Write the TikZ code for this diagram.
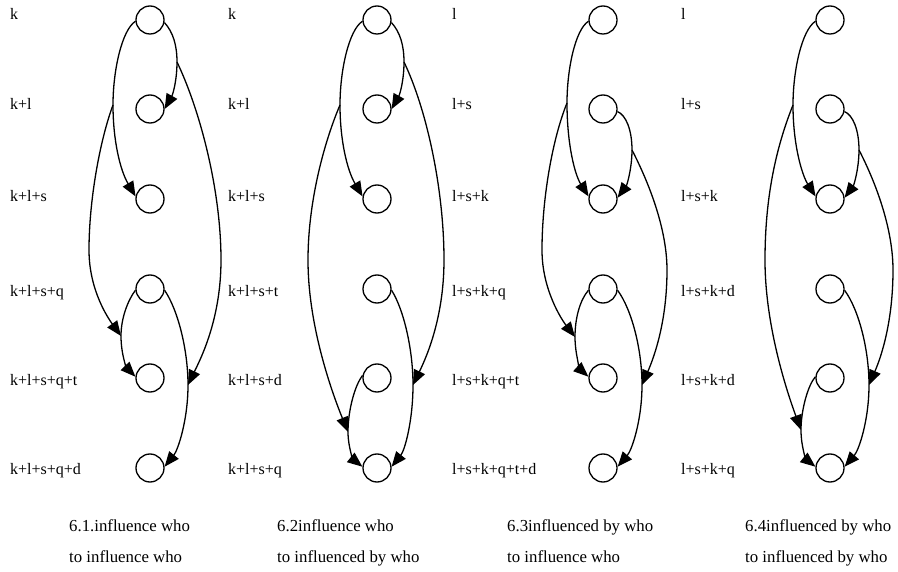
\documentclass[tikz,border=0pt]{standalone}
\usepackage{fontspec}
\setmainfont{Liberation Serif}
\usetikzlibrary{arrows.meta}
\tikzset{
  st/.style={draw, circle, minimum size=28pt, inner sep=0pt, line width=1.3pt},
  lbl/.style={anchor=base west, inner sep=0pt, font=\fontsize{16}{19}\selectfont},
  captext/.style={anchor=base west, inner sep=0pt, font=\fontsize{16.8}{19}\selectfont},
  ed/.style={line width=1.3pt, -{Triangle[length=15pt,width=12pt]}},
}
\begin{document}
\begin{tikzpicture}[x=1pt,y=-1pt]
\useasboundingbox[fill=white] (0,0) rectangle (898,572);
\foreach \i/\y in {1/20,2/109,3/199,4/289,5/378,6/468}{
  \node[st] (a\i) at (150,\y) {};
  \node[st] (b\i) at (377,\y) {};
  \node[st] (c\i) at (603,\y) {};
  \node[st] (d\i) at (830,\y) {};
}
\foreach \t/\y [count=\j] in {k/19.5,k+l/110,k+l+s/201.5,k+l+s+q/297,k+l+s+q+t/385,k+l+s+q+d/474}
  \node[lbl] (la\j) at (10,\y) {\t};
\foreach \t/\y [count=\j] in {k/19.5,k+l/110,k+l+s/201.5,k+l+s+t/297,k+l+s+d/385,k+l+s+q/474}
  \node[lbl] (lb\j) at (228,\y) {\t};
\foreach \t/\y [count=\j] in {l/19.5,l+s/110,l+s+k/201.5,l+s+k+q/297,l+s+k+q+t/385,l+s+k+q+t+d/474}
  \node[lbl] (lc\j) at (452,\y) {\t};
\foreach \t/\y [count=\j] in {l/19.5,l+s/110,l+s+k/201.5,l+s+k+d/297,l+s+k+d/385,l+s+k+q/474}
  \node[lbl] (ld\j) at (681,\y) {\t};

% panel 1 edges
\coordinate (m1) at (177,62);
\coordinate (m2) at (113,105);
\coordinate (m3) at (121,336);
\coordinate (m4) at (188,385);
\draw[ed] (a1.-10) .. controls (173,32) and (177,45) .. (m1) .. controls (177,80) and (173,94) .. (a2.0);
\draw[ed] (a1.185) .. controls (122,30) and (113,70) .. (m2) .. controls (113,140) and (120,170) .. (a3.170);
\draw[ed] (a4.185) .. controls (128,300) and (121,318) .. (m3) .. controls (121,355) and (127,368) .. (a5.175);
\draw[ed] (a4.-5) .. controls (178,310) and (188,350) .. (m4) .. controls (188,420) and (178,450) .. (a6.5);
\draw[ed] (m2) .. controls (100,140) and (89,200) .. (89,250) .. controls (89,290) and (108,318) .. (m3);
\draw[ed] (m1) .. controls (200,110) and (221,190) .. (221,260) .. controls (221,320) and (200,360) .. (m4);

% panel 2 edges
\coordinate (p1) at (404,62);
\coordinate (p2) at (340,105);
\coordinate (p3) at (348,432);
\coordinate (p4) at (413,385);
\draw[ed] (b1.-10) .. controls (400,32) and (404,45) .. (p1) .. controls (404,80) and (400,94) .. (b2.0);
\draw[ed] (b1.185) .. controls (349,30) and (340,70) .. (p2) .. controls (340,140) and (347,170) .. (b3.170);
\draw[ed] (b4.-5) .. controls (404,310) and (413,350) .. (p4) .. controls (413,420) and (405,450) .. (b6.5);
\draw[ed] (b5.170) .. controls (355,385) and (348,410) .. (p3) .. controls (348,448) and (354,460) .. (b6.175);
\draw[ed] (p2) .. controls (325,140) and (308,200) .. (308,260) .. controls (308,330) and (335,400) .. (p3);
\draw[ed] (p1) .. controls (427,110) and (444,190) .. (444,260) .. controls (444,320) and (425,360) .. (p4);

% panel 3 edges
\coordinate (q1) at (567,103);
\coordinate (q2) at (632,150);
\coordinate (q3) at (575,337);
\coordinate (q4) at (642,385);
\draw[ed] (c1.185) .. controls (575,30) and (567,70) .. (q1) .. controls (567,145) and (575,175) .. (c3.170);
\draw[ed] (c2.-10) .. controls (626,115) and (632,130) .. (q2) .. controls (632,168) and (627,185) .. (c3.5);
\draw[ed] (c4.185) .. controls (580,300) and (575,318) .. (q3) .. controls (575,355) and (581,370) .. (c5.175);
\draw[ed] (c4.-5) .. controls (632,310) and (642,350) .. (q4) .. controls (642,420) and (632,450) .. (c6.5);
\draw[ed] (q1) .. controls (552,140) and (542,200) .. (542,250) .. controls (542,290) and (562,320) .. (q3);
\draw[ed] (q2) .. controls (650,185) and (667,230) .. (667,270) .. controls (667,320) and (655,355) .. (q4);

% panel 4 edges
\coordinate (r1) at (793,105);
\coordinate (r2) at (859,150);
\coordinate (r3) at (801,430);
\coordinate (r4) at (869,385);
\draw[ed] (d1.185) .. controls (802,30) and (793,70) .. (r1) .. controls (793,145) and (802,175) .. (d3.170);
\draw[ed] (d2.-10) .. controls (853,115) and (859,130) .. (r2) .. controls (859,168) and (854,185) .. (d3.5);
\draw[ed] (d4.-5) .. controls (859,310) and (869,350) .. (r4) .. controls (869,420) and (859,450) .. (d6.5);
\draw[ed] (d5.175) .. controls (808,385) and (801,410) .. (r3) .. controls (801,448) and (807,460) .. (d6.175);
\draw[ed] (r1) .. controls (775,150) and (765,200) .. (765,260) .. controls (765,330) and (790,400) .. (r3);
\draw[ed] (r2) .. controls (877,185) and (893,230) .. (893,270) .. controls (893,320) and (882,355) .. (r4);

% captions
\node[captext] (c61a) at (69,531) {6.1.influence who};
\node[captext] (c61b) at (69,562) {to influence who};
\node[captext] (c62a) at (277,531) {6.2influence who};
\node[captext] (c62b) at (277,562) {to influenced by who};
\node[captext] (c63a) at (507,531) {6.3influenced by who};
\node[captext] (c63b) at (507,562) {to influence who};
\node[captext] (c64a) at (745,531) {6.4influenced by who};
\node[captext] (c64b) at (745,562) {to influenced by who};
\end{tikzpicture}
\end{document}
